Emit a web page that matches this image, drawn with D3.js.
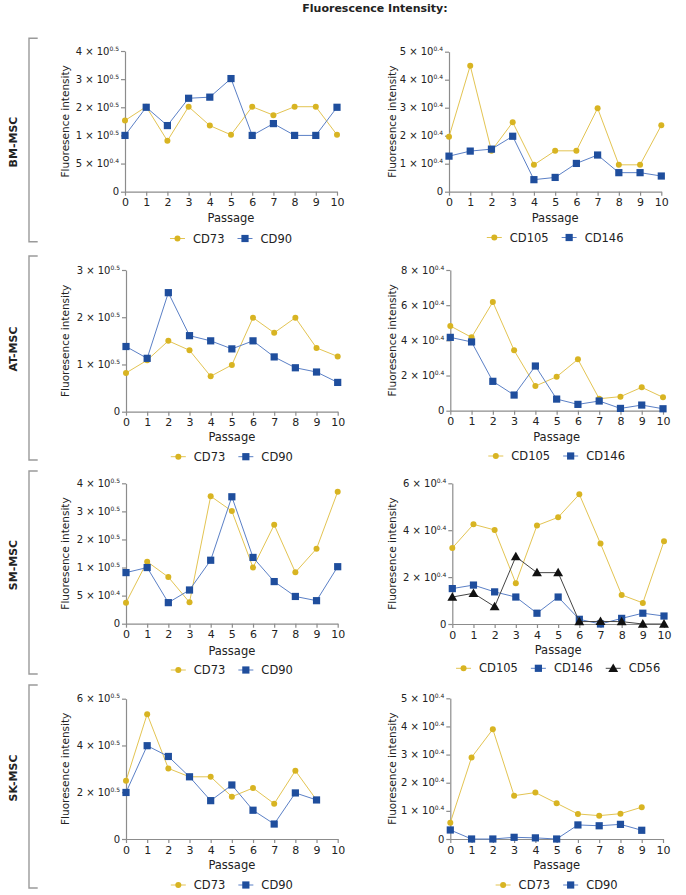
<!DOCTYPE html>
<html><head><meta charset="utf-8">
<script src="https://cdn.jsdelivr.net/npm/d3@7"></script>
<style>body{margin:0;background:#fff}svg{display:block}text{font-family:"DejaVu Sans",Verdana,sans-serif;fill:#222}</style>
</head><body>
<svg id="c" width="686" height="895"></svg>
<script>
// ---------- DATA ----------
const passage = [0,1,2,3,4,5,6,7,8,9,10];
const passageSK = [0,1,2,3,4,5,6,7,8,9];
const xTicks = [0,1,2,3,4,5,6,7,8,9,10];
const rowLabels = ["BM-MSC","AT-MSC","SM-MSC","SK-MSC"];

// y values are in the axis' own tick units
const bmCD73  = [2.53,3.02,1.81,3.02,2.35,2.02,3.02,2.72,3.02,3.02,2.02];
const bmCD90  = [2.0,3.0,2.35,3.32,3.36,4.02,2.0,2.42,2.0,2.0,3.0];
const bmCD105 = [1.96,4.5,1.46,2.48,0.96,1.46,1.46,2.98,0.96,0.96,2.37];
const bmCD146 = [1.27,1.45,1.52,1.98,0.43,0.51,1.01,1.31,0.68,0.68,0.56];
const atCD73  = [0.82,1.09,1.50,1.30,0.75,0.99,1.99,1.67,1.99,1.35,1.17];
const atCD90  = [1.38,1.13,2.52,1.61,1.50,1.33,1.50,1.16,0.93,0.84,0.62];
const atCD105 = [4.82,4.17,6.18,3.43,1.40,1.93,2.92,0.68,0.80,1.33,0.76];
const atCD146 = [4.17,3.91,1.67,0.89,2.54,0.66,0.36,0.55,0.13,0.32,0.11];
const smCD73  = [0.75,2.21,1.66,0.76,4.54,4.01,2.0,3.52,1.83,2.67,4.70];
const smCD90  = [1.82,2.0,0.75,1.20,2.26,4.52,2.36,1.50,0.97,0.82,2.03];
const smCD105 = [3.24,4.25,4.01,1.74,4.20,4.55,5.53,3.43,1.24,0.90,3.53];
const smCD146 = [1.51,1.66,1.37,1.15,0.46,1.15,0.20,0.0,0.24,0.46,0.34];
const smCD56  = [1.15,1.31,0.74,2.87,2.19,2.19,0.10,0.11,0.10,0.0,0.0];
const skCD73a = [2.49,5.34,3.02,2.66,2.66,1.81,2.18,1.51,2.92,1.67];
const skCD90a = [1.99,3.99,3.53,2.66,1.64,2.31,1.23,0.64,1.97,1.67];
const skCD73b = [0.58,2.90,3.90,1.54,1.65,1.27,0.89,0.83,0.90,1.13];
const skCD90b = [0.32,0.0,0.0,0.06,0.04,0.0,0.50,0.47,0.52,0.31];

// tick values and labels ("^" marks the superscript exponent)
const ticksA = [0,1,2,3,4,5];
const labelsA = ["0","5 × 10^0.4","1 × 10^0.5","2 × 10^0.5","3 × 10^0.5","4 × 10^0.5"];
const ticksB = [0,1,2,3,4,5];
const labelsB = ["0","1 × 10^0.4","2 × 10^0.4","3 × 10^0.4","4 × 10^0.4","5 × 10^0.4"];
const ticksC = [0,1,2,3];
const labelsC = ["0","1 × 10^0.5","2 × 10^0.5","3 × 10^0.5"];
const ticksD = [0,2,4,6,8];
const labelsD = ["0","2 × 10^0.4","4 × 10^0.4","6 × 10^0.4","8 × 10^0.4"];
const ticksE = [0,2,4,6];
const labelsE = ["0","2 × 10^0.4","4 × 10^0.4","6 × 10^0.4"];
const ticksF = [0,2,4,6];
const labelsF = ["0","2 × 10^0.5","4 × 10^0.5","6 × 10^0.5"];

// ---------- STYLE ----------
const YEL = "#d8b422", YEL_L = "#e3c452";
const BLU = "#1f4e9d", BLU_L = "#5b80c6";
const BLK = "#111111", BLK_L = "#444444";
const AX = "#8c8c8c";

const S = (name, x, y, type) => ({name, x, y, type});
const panels = [
 {x0:125,x1:337,yT:51,yB:191.7,max:5,ticks:ticksA,labels:labelsA,ylx:65,series:[S("CD73",passage,bmCD73,"c"),S("CD90",passage,bmCD90,"s")]},
 {x0:449,x1:661.3,yT:51.7,yB:191.7,max:5,ticks:ticksB,labels:labelsB,ylx:392,series:[S("CD105",passage,bmCD105,"c"),S("CD146",passage,bmCD146,"s")]},
 {x0:126,x1:337.7,yT:270,yB:411.7,max:3,ticks:ticksC,labels:labelsC,ylx:65,series:[S("CD73",passage,atCD73,"c"),S("CD90",passage,atCD90,"s")]},
 {x0:450.3,x1:663,yT:270,yB:410.7,max:8,ticks:ticksD,labels:labelsD,ylx:392,series:[S("CD105",passage,atCD105,"c"),S("CD146",passage,atCD146,"s")]},
 {x0:126,x1:337.7,yT:483.3,yB:623.7,max:5,ticks:ticksA,labels:labelsA,ylx:65,series:[S("CD73",passage,smCD73,"c"),S("CD90",passage,smCD90,"s")]},
 {x0:452.3,x1:664,yT:483.3,yB:624,max:6,ticks:ticksE,labels:labelsE,ylx:392,series:[S("CD105",passage,smCD105,"c"),S("CD146",passage,smCD146,"s"),S("CD56",passage,smCD56,"t")]},
 {x0:126,x1:337.7,yT:698.7,yB:839,max:6,ticks:ticksF,labels:labelsF,ylx:65,series:[S("CD73",passageSK,skCD73a,"c"),S("CD90",passageSK,skCD90a,"s")]},
 {x0:450.3,x1:663,yT:698.3,yB:839,max:5,ticks:ticksB,labels:labelsB,ylx:392,series:[S("CD73",passageSK,skCD73b,"c"),S("CD90",passageSK,skCD90b,"s")]}
];
const xlabY = [218.3,218.3,437.3,436.7,651,650,865,865];
const legY = [238.5,237.5,456.7,456,670,668.3,885,885];
const brackets = [[38.3,241.7],[256,460],[471,674],[685,888]];
const rowLabY = [142,349,565,778];

const svg = d3.select("#c");

// title
svg.append("text").attr("x",375).attr("y",12).attr("text-anchor","middle")
  .style("font-weight","bold").style("font-size","11px").text("Fluorescence Intensity:");

// brackets + row labels
brackets.forEach((b,i)=>{
  svg.append("path").attr("d",`M37.7,${b[0]}H29V${b[1]}H37.7`).attr("fill","none")
    .attr("stroke","#9a9a9a").attr("stroke-width",1.4);
  svg.append("text").attr("transform",`translate(17,${rowLabY[i]}) rotate(-90)`)
    .attr("text-anchor","middle").style("font-weight","bold").style("font-size","11px").text(rowLabels[i]);
});

function marker(g, type, color, cx, cy){
  if(type==="c") g.append("circle").attr("cx",cx).attr("cy",cy).attr("r",3).attr("fill",color);
  else if(type==="s") g.append("rect").attr("x",cx-3.6).attr("y",cy-3.6).attr("width",7.2).attr("height",7.2).attr("fill",color);
  else g.append("path").attr("d",d3.symbol(d3.symbolTriangle,42)()).attr("transform",`translate(${cx},${cy+0.8})`).attr("fill",color);
}
const colorOf = t => t==="c"?[YEL,YEL_L]:t==="s"?[BLU,BLU_L]:[BLK,BLK_L];

panels.forEach((p,pi)=>{
  const x = d3.scaleLinear().domain([0,10]).range([p.x0,p.x1]);
  const y = d3.scaleLinear().domain([0,p.max]).range([p.yB,p.yT]);
  const g = svg.append("g");

  // x axis
  const xa = g.append("g").attr("transform",`translate(0,${p.yB})`)
    .call(d3.axisBottom(x).tickValues(xTicks).tickFormat(d3.format("d")).tickSize(4).tickSizeOuter(0));
  xa.select(".domain").attr("stroke",AX).attr("stroke-width",1.2);
  xa.selectAll(".tick line").attr("stroke",AX).attr("stroke-width",1.2);
  xa.selectAll(".tick text").attr("y",7).style("font-size","11px").style("font-family","DejaVu Sans").attr("fill","#222");

  // y axis
  const ya = g.append("g").attr("transform",`translate(${p.x0},0)`)
    .call(d3.axisLeft(y).tickValues(p.ticks).tickFormat("").tickSize(4).tickSizeOuter(0));
  ya.select(".domain").attr("stroke",AX).attr("stroke-width",1.2);
  ya.selectAll(".tick line").attr("stroke",AX).attr("stroke-width",1.2);
  p.ticks.forEach((tv,i)=>{
    const parts = p.labels[i].split("^");
    const t = g.append("text").attr("x",p.x0-6).attr("y",y(tv)+3.5).attr("text-anchor","end").style("font-size","10px");
    t.append("tspan").text(parts[0]);
    if(parts[1]) t.append("tspan").attr("dy",-4).style("font-size","6px").text(parts[1]);
  });

  // axis titles
  g.append("text").attr("transform",`translate(${p.ylx+4},${(p.yT+p.yB)/2}) rotate(-90)`)
    .attr("text-anchor","middle").style("font-size","10.5px").text("Fluoresence intensity");
  g.append("text").attr("x",(p.x0+p.x1)/2).attr("y",xlabY[pi]+4).attr("text-anchor","middle")
    .style("font-size","11.5px").text("Passage");

  // series
  p.series.forEach(s=>{
    const [c,cl] = colorOf(s.type);
    const pts = s.x.map((xv,i)=>[x(xv),y(s.y[i])]);
    g.append("path").attr("d",d3.line()(pts)).attr("fill","none").attr("stroke",cl).attr("stroke-width",1);
    pts.forEach(pt=>marker(g,s.type,c,pt[0],pt[1]));
  });

  // legend
  const lg = svg.append("g");
  let cx = 0;
  p.series.forEach((s,i)=>{
    const [c,cl] = colorOf(s.type);
    const it = lg.append("g").attr("transform",`translate(${cx},0)`);
    it.append("line").attr("x1",0).attr("x2",15).attr("y1",0).attr("y2",0).attr("stroke",cl).attr("stroke-width",1);
    marker(it,s.type,c,7.5,0);
    const tx = it.append("text").attr("x",23).attr("y",4).style("font-size","11.5px").text(s.name);
    cx += 23 + tx.node().getComputedTextLength() + 13;
  });
  const w = cx - 13;
  lg.attr("transform",`translate(${(p.x0+p.x1)/2 - w/2},${legY[pi]})`);
});
</script>
</body></html>
